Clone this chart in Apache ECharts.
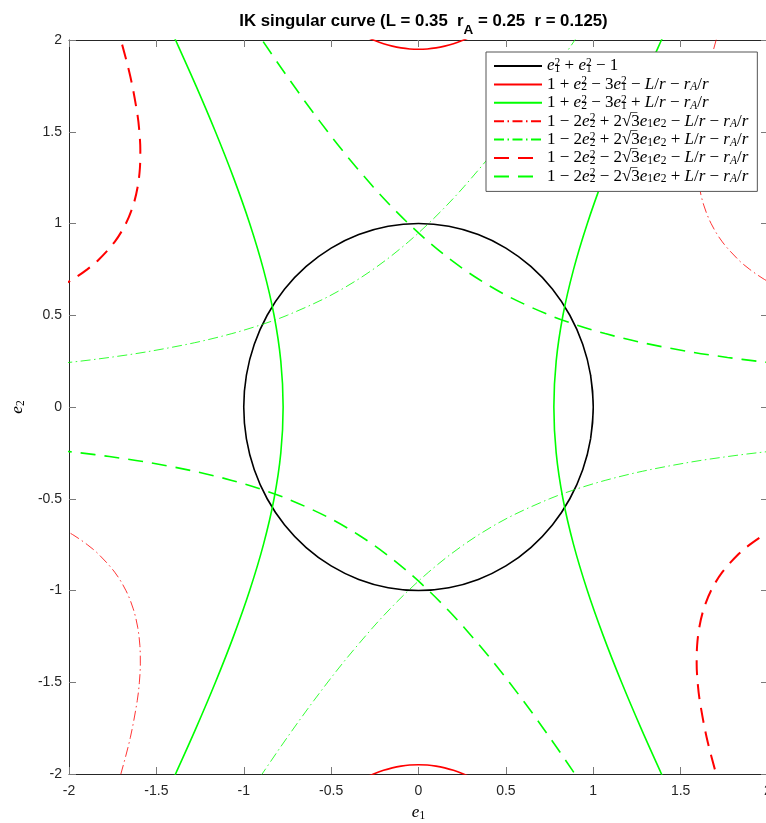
<!DOCTYPE html>
<html><head><meta charset="utf-8">
<script src="https://cdn.jsdelivr.net/npm/echarts@6/dist/echarts.min.js"></script>
<style>html,body{margin:0;padding:0;background:#fff}#c{width:766px;height:823px}</style>
</head><body><div id="c"></div>
<script>
// axis ranges / ticks
const axisMin = -2, axisMax = 2, axisStep = 0.5;

// curve points, [e1, e2]
const circle = [[0.9848,-0.1736],[1,0],[0.9848,0.1736],[0.9397,0.342],[0.866,0.5],[0.766,0.6428],[0.6428,0.766],[0.5,0.866],[0.342,0.9397],[0.1736,0.9848],[0,1],[-0.1736,0.9848],[-0.342,0.9397],[-0.5,0.866],[-0.6428,0.766],[-0.766,0.6428],[-0.866,0.5],[-0.9397,0.342],[-0.9848,0.1736],[-1,0],[-0.9848,-0.1736],[-0.9397,-0.342],[-0.866,-0.5],[-0.766,-0.6428],[-0.6428,-0.766],[-0.5,-0.866],[-0.342,-0.9397],[-0.1736,-0.9848],[0,-1],[0.1736,-0.9848],[0.342,-0.9397],[0.5,-0.866],[0.6428,-0.766],[0.766,-0.6428],[0.866,-0.5],[0.9397,-0.342],[0.9848,-0.1736],[1,0],[0.9848,0.1736]];

const redSolidTop = [[-0.3,2.0174],[-0.25,1.9969],[-0.2,1.9799],[-0.15,1.9666],[-0.1,1.957],[-0.05,1.9513],[0,1.9494],[0.05,1.9513],[0.1,1.957],[0.15,1.9666],[0.2,1.9799],[0.25,1.9969],[0.3,2.0174]];
const redSolidBottom = [[-0.3,-2.0174],[-0.25,-1.9969],[-0.2,-1.9799],[-0.15,-1.9666],[-0.1,-1.957],[-0.05,-1.9513],[0,-1.9494],[0.05,-1.9513],[0.1,-1.957],[0.15,-1.9666],[0.2,-1.9799],[0.25,-1.9969],[0.3,-2.0174]];

const greenSolidRight = [[1.4387,-2.1],[1.3904,-2],[1.2731,-1.75],[1.1619,-1.5],[1.0587,-1.25],[0.9661,-1],[0.8874,-0.75],[0.8266,-0.5],[0.7879,-0.25],[0.7746,0],[0.7879,0.25],[0.8266,0.5],[0.8874,0.75],[0.9661,1],[1.0587,1.25],[1.1619,1.5],[1.2731,1.75],[1.3904,2],[1.4387,2.1]];
const greenSolidLeft = [[-1.4387,-2.1],[-1.3904,-2],[-1.2731,-1.75],[-1.1619,-1.5],[-1.0587,-1.25],[-0.9661,-1],[-0.8874,-0.75],[-0.8266,-0.5],[-0.7879,-0.25],[-0.7746,0],[-0.7879,0.25],[-0.8266,0.5],[-0.8874,0.75],[-0.9661,1],[-1.0587,1.25],[-1.1619,1.5],[-1.2731,1.75],[-1.3904,2],[-1.4387,2.1]];

const redDashDotUpper = [[1.7348,2.1],[1.7032,2],[1.6487,1.8],[1.6094,1.6],[1.5973,1.5],[1.5918,1.4],[1.5944,1.3],[1.607,1.2],[1.6323,1.1],[1.6743,1],[1.7385,0.9],[1.8331,0.8],[1.8956,0.75],[1.9713,0.7],[2.0629,0.65]];
const redDashDotLower = [[-1.7348,-2.1],[-1.7032,-2],[-1.6487,-1.8],[-1.6094,-1.6],[-1.5973,-1.5],[-1.5918,-1.4],[-1.5944,-1.3],[-1.607,-1.2],[-1.6323,-1.1],[-1.6743,-1],[-1.7385,-0.9],[-1.8331,-0.8],[-1.8956,-0.75],[-1.9713,-0.7],[-2.0629,-0.65]];

const greenDashDotUpper = [[0.965,2.1],[0.8949,2],[0.7506,1.8],[0.599,1.6],[0.4371,1.4],[0.2598,1.2],[0.1627,1.1],[0.0577,1],[-0.0577,0.9],[-0.1876,0.8],[-0.3382,0.7],[-0.5196,0.6],[-0.7506,0.5],[-0.8949,0.45],[-1.0681,0.4],[-1.2826,0.35],[-1.5589,0.3],[-1.7686,0.27],[-1.9341,0.25],[-2.1264,0.23]];
const greenDashDotLower = [[-0.965,-2.1],[-0.8949,-2],[-0.7506,-1.8],[-0.599,-1.6],[-0.4371,-1.4],[-0.2598,-1.2],[-0.1627,-1.1],[-0.0577,-1],[0.0577,-0.9],[0.1876,-0.8],[0.3382,-0.7],[0.5196,-0.6],[0.7506,-0.5],[0.8949,-0.45],[1.0681,-0.4],[1.2826,-0.35],[1.5589,-0.3],[1.7686,-0.27],[1.9341,-0.25],[2.1264,-0.23]];

const redDashedUpper = [[-1.7348,2.1],[-1.7032,2],[-1.6487,1.8],[-1.6094,1.6],[-1.5973,1.5],[-1.5918,1.4],[-1.5944,1.3],[-1.607,1.2],[-1.6323,1.1],[-1.6743,1],[-1.7385,0.9],[-1.8331,0.8],[-1.8956,0.75],[-1.9713,0.7],[-2.0629,0.65]];
const redDashedLower = [[1.7348,-2.1],[1.7032,-2],[1.6487,-1.8],[1.6094,-1.6],[1.5973,-1.5],[1.5918,-1.4],[1.5944,-1.3],[1.607,-1.2],[1.6323,-1.1],[1.6743,-1],[1.7385,-0.9],[1.8331,-0.8],[1.8956,-0.75],[1.9713,-0.7],[2.0629,-0.65]];

const greenDashedUpper = [[-0.965,2.1],[-0.8949,2],[-0.7506,1.8],[-0.599,1.6],[-0.4371,1.4],[-0.2598,1.2],[-0.1627,1.1],[-0.0577,1],[0.0577,0.9],[0.1876,0.8],[0.3382,0.7],[0.5196,0.6],[0.7506,0.5],[0.8949,0.45],[1.0681,0.4],[1.2826,0.35],[1.5589,0.3],[1.7686,0.27],[1.9341,0.25],[2.1264,0.23]];
const greenDashedLower = [[0.965,-2.1],[0.8949,-2],[0.7506,-1.8],[0.599,-1.6],[0.4371,-1.4],[0.2598,-1.2],[0.1627,-1.1],[0.0577,-1],[-0.0577,-0.9],[-0.1876,-0.8],[-0.3382,-0.7],[-0.5196,-0.6],[-0.7506,-0.5],[-0.8949,-0.45],[-1.0681,-0.4],[-1.2826,-0.35],[-1.5589,-0.3],[-1.7686,-0.27],[-1.9341,-0.25],[-2.1264,-0.23]];

const legendNames = ['k1','r1','g1','r2','g2','r3','g3'];
const legendLabels = {
  k1: '{v|e}{p|2}{b|1}{t| + }{v|e}{p|2}{b|1}{t| − 1}',
  r1: '{t|1 + }{v|e}{p|2}{b|2}{t| − 3}{v|e}{p|2}{b|1}{t| − }{v|L}{t|/}{v|r}{t| − }{v|r}{bi|A}{t|/}{v|r}',
  g1: '{t|1 + }{v|e}{p|2}{b|2}{t| − 3}{v|e}{p|2}{b|1}{t| + }{v|L}{t|/}{v|r}{t| − }{v|r}{bi|A}{t|/}{v|r}',
  r2: '{t|1 − 2}{v|e}{p|2}{b|2}{t| + 2√}{ov|‾}{t|3}{v|e}{b|1}{v|e}{b|2}{t| − }{v|L}{t|/}{v|r}{t| − }{v|r}{bi|A}{t|/}{v|r}',
  g2: '{t|1 − 2}{v|e}{p|2}{b|2}{t| + 2√}{ov|‾}{t|3}{v|e}{b|1}{v|e}{b|2}{t| + }{v|L}{t|/}{v|r}{t| − }{v|r}{bi|A}{t|/}{v|r}',
  r3: '{t|1 − 2}{v|e}{p|2}{b|2}{t| − 2√}{ov|‾}{t|3}{v|e}{b|1}{v|e}{b|2}{t| − }{v|L}{t|/}{v|r}{t| − }{v|r}{bi|A}{t|/}{v|r}',
  g3: '{t|1 − 2}{v|e}{p|2}{b|2}{t| − 2√}{ov|‾}{t|3}{v|e}{b|1}{v|e}{b|2}{t| + }{v|L}{t|/}{v|r}{t| − }{v|r}{bi|A}{t|/}{v|r}'
};

const SERIF = 'Liberation Serif';
const LH = 18;
const rich = {
  t: {fontFamily: SERIF, fontSize: 17, lineHeight: LH, color: '#000'},
  v: {fontFamily: SERIF, fontStyle: 'italic', fontSize: 17, lineHeight: LH, color: '#000'},
  p: {fontFamily: SERIF, fontSize: 11.5, lineHeight: 10, verticalAlign: 'top', width: 0, color: '#000'},
  b: {fontFamily: SERIF, fontSize: 11.5, lineHeight: 8, verticalAlign: 'bottom', color: '#000'},
  bi: {fontFamily: SERIF, fontStyle: 'italic', fontSize: 11.5, lineHeight: 8, verticalAlign: 'bottom', color: '#000'},
  ov: {fontFamily: SERIF, fontSize: 17, lineHeight: LH, width: 0, color: '#000'}
};

function mk(name, data, color, width, type, smooth) {
  return {
    name, type: 'line', data, showSymbol: false, symbol: 'none', smooth: smooth || 0.33,
    clip: true, silent: true, animation: false,
    lineStyle: {color, width, type}, itemStyle: {color}
  };
}
const DD = [10, 3.5, 1.5, 3.5];
const DS = [15, 9];
const series = [
  mk('k1', circle, '#000000', 1.6, 'solid'),
  mk('r1', redSolidTop, '#ff0000', 1.6, 'solid'),
  mk('r1', redSolidBottom, '#ff0000', 1.6, 'solid'),
  mk('g1', greenSolidRight, '#00ff00', 1.6, 'solid'),
  mk('g1', greenSolidLeft, '#00ff00', 1.6, 'solid'),
  mk('r2', redDashDotUpper, '#ff0000', 0.8, DD),
  mk('r2', redDashDotLower, '#ff0000', 0.8, DD),
  mk('g2', greenDashDotUpper, '#00ff00', 0.8, DD),
  mk('g2', greenDashDotLower, '#00ff00', 0.8, DD),
  mk('r3', redDashedUpper, '#ff0000', 2, DS),
  mk('r3', redDashedLower, '#ff0000', 2, DS),
  mk('g3', greenDashedUpper, '#00ff00', 1.6, DS),
  mk('g3', greenDashedLower, '#00ff00', 1.6, DS)
];

const AX = '#262626';
const tickLabel = {fontFamily: 'Liberation Sans', fontSize: 14, color: AX};
function axis(extra) {
  return Object.assign({
    type: 'value', min: axisMin, max: axisMax, interval: axisStep,
    axisLine: {show: true, onZero: false, lineStyle: {color: AX, width: 1}},
    axisTick: {show: true, inside: true, length: 7, lineStyle: {color: '#7a7a7a', width: 1}},
    splitLine: {show: false}
  }, extra);
}

const chart = echarts.init(document.getElementById('c'), null, {renderer: 'canvas'});
chart.setOption({
  animation: false,
  backgroundColor: '#fff',
  title: {
    text: '{b|IK singular curve (L = 0.35  r}{s|A}{b| = 0.25  r = 0.125)}',
    left: 418.5, textAlign: 'center', top: 8,
    textStyle: {rich: {
      b: {fontFamily: 'Liberation Sans', fontWeight: 'bold', fontSize: 16.8, lineHeight: 24, verticalAlign: 'top', color: '#000'},
      s: {fontFamily: 'Liberation Sans', fontWeight: 'bold', fontSize: 13.5, lineHeight: 13, verticalAlign: 'bottom', color: '#000'}
    }}
  },
  grid: {left: 69, top: 40, width: 699, height: 734, containLabel: false, outerBoundsMode: 'none'},
  xAxis: [
    axis({position: 'bottom', axisLabel: Object.assign({margin: 10}, tickLabel),
      name: '{v|e}{b|1}', nameLocation: 'middle', nameGap: 30,
      nameTextStyle: {rich: rich}}),
    axis({position: 'top', axisLabel: {show: false}})
  ],
  yAxis: [
    axis({position: 'left', axisLabel: Object.assign({margin: 7}, tickLabel),
      name: '{v|e}{b|2}', nameLocation: 'middle', nameGap: 36,
      nameTextStyle: {rich: rich}}),
    axis({position: 'right', axisLabel: {show: false}})
  ],
  legend: {
    data: legendNames, orient: 'vertical', left: 486, top: 52,
    itemWidth: 48, itemHeight: 14, itemGap: 0.4,
    padding: [5, 9, 6, 7],
    backgroundColor: '#fff', borderColor: '#555', borderWidth: 1,
    selectedMode: false,
    itemStyle: {color: 'rgba(0,0,0,0)', borderWidth: 0, opacity: 0},
    formatter: n => legendLabels[n],
    textStyle: {rich: rich}
  },
  series: series
});
</script></body></html>
